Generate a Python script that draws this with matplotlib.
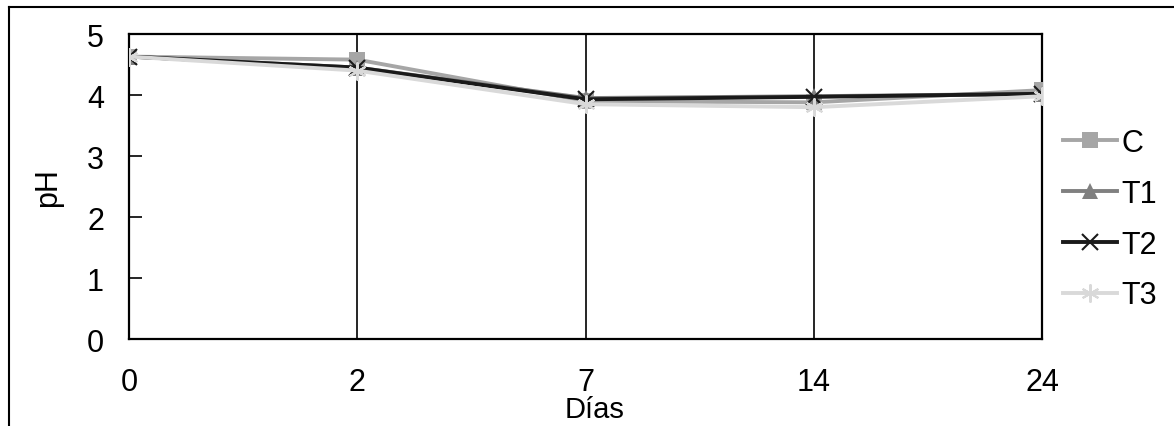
import matplotlib.pyplot as plt
from matplotlib.lines import Line2D

plt.rcParams['font.family'] = ['Liberation Sans', 'DejaVu Sans']

# pH por tratamiento a lo largo del tiempo
dias = ["0", "2", "7", "14", "24"]
ph_c = [4.63, 4.58, 3.90, 3.88, 4.08]
ph_t1 = [4.63, 4.45, 3.95, 3.98, 4.02]
ph_t2 = [4.63, 4.45, 3.93, 3.97, 4.02]
ph_t3 = [4.63, 4.40, 3.85, 3.80, 3.98]

series = [
    ("C", ph_c, "#A6A6A6", "s", 11, 0),
    ("T1", ph_t1, "#808080", "^", 11, 0),
    ("T2", ph_t2, "#1A1A1A", "x", 11, 1.5),
    ("T3", ph_t3, "#D9D9D9", (6, 2, 0), 13, 1.5),
]

fig = plt.figure(figsize=(11.74, 4.27), dpi=100)
ax = fig.add_axes([0.1099, 0.2037, 0.7777, 0.7143])

x = list(range(len(dias)))
for nombre, vals, color, mk, ms, mew in series:
    ax.plot(x, vals, color=color, linewidth=2.8, marker=mk, markersize=ms,
            markeredgewidth=mew, markerfacecolor=color, markeredgecolor=color,
            label=nombre, zorder=3)

ax.set_xlim(0, len(dias) - 1)
ax.set_ylim(0, 5)
ax.set_xticks(x)
ax.set_xticklabels(dias)
ax.set_yticks([0, 1, 2, 3, 4, 5])

ax.grid(axis="x", color="black", linewidth=1.2)
ax.tick_params(axis="x", length=0, labelsize=22, pad=20)
ax.tick_params(axis="y", direction="in", length=9, width=1.2, labelsize=22, pad=18)
for sp in ax.spines.values():
    sp.set_linewidth(1.6)

ax.set_xlabel("Días", fontsize=21)
ax.xaxis.set_label_coords(0.51, -0.182)
ax.set_ylabel("pH", fontsize=22)
ax.yaxis.set_label_coords(-0.072, 0.5)

ax.legend(loc="center left", bbox_to_anchor=(1.023, 0.393), frameon=False,
          fontsize=22, handlelength=1.77, handletextpad=0.15, labelspacing=0.68,
          borderpad=0, borderaxespad=0)

# marco exterior del gráfico
fig.add_artist(Line2D([9 / 1174, 1], [1 - 8 / 427, 1 - 8 / 427], color="black", linewidth=1.5))
fig.add_artist(Line2D([9 / 1174, 9 / 1174], [0, 1 - 8 / 427], color="black", linewidth=1.5))

fig.savefig("out.png", dpi=100)
